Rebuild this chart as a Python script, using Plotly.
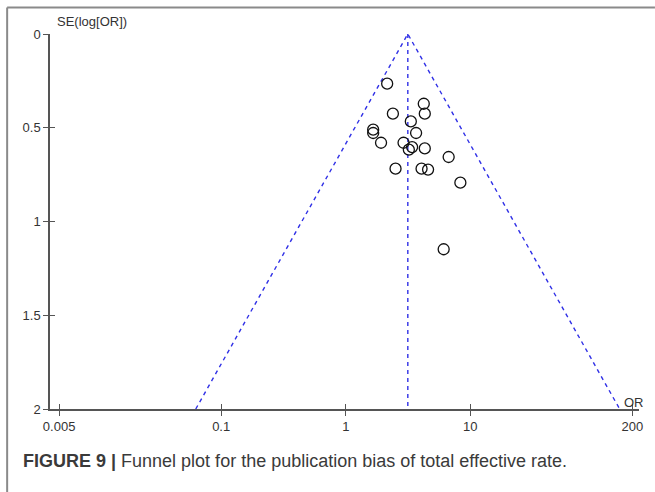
import plotly.graph_objects as go

# Study data
study_or = [2.15, 4.23, 4.31, 2.39, 3.33, 1.66, 1.66, 3.67, 1.92, 2.91,
            3.41, 3.21, 4.31, 6.70, 2.51, 4.06, 4.58, 8.32, 6.11]
study_se = [0.265, 0.372, 0.425, 0.425, 0.466, 0.510, 0.528, 0.528, 0.580, 0.580,
            0.603, 0.617, 0.610, 0.656, 0.718, 0.718, 0.723, 0.793, 1.148]

# Funnel (pseudo 95% limits) and pooled estimate
funnel_or = [0.0625, 3.15, 158.0]
funnel_se = [2.0, 0.0, 2.0]
pooled_or = [3.15, 3.15]
pooled_se = [0.0, 2.0]

x_ticks = [0.005, 0.1, 1, 10, 200]
x_tick_labels = ["0.005", "0.1", "1", "10", "200"]
y_ticks = [0, 0.5, 1, 1.5, 2]
y_tick_labels = ["0", "0.5", "1", "1.5", "2"]

W, H = 655, 492
L, R, T, B = 50, 14, 33.5, 83
pw = W - L - R
ph = H - T - B
xr = [-2.374, 2.354]
yr = [2, 0]

blue = "#3030e6"
axis_col = "#555555"
txt_col = "#333333"
font = "Liberation Sans, Arial, sans-serif"

fig = go.Figure()
fig.add_trace(go.Scatter(x=funnel_or, y=funnel_se, mode="lines",
                         line=dict(color=blue, width=1.4, dash="4px,4px"),
                         hoverinfo="skip", showlegend=False))
fig.add_trace(go.Scatter(x=pooled_or, y=pooled_se, mode="lines",
                         line=dict(color=blue, width=1.4, dash="4px,4px"),
                         hoverinfo="skip", showlegend=False))
fig.add_trace(go.Scatter(x=study_or, y=study_se, mode="markers",
                         marker=dict(symbol="circle-open", size=11,
                                     line=dict(color="#111111", width=1.3),
                                     color="#111111"),
                         showlegend=False))
# invisible trace on overlay axes for inner tick halves
fig.add_trace(go.Scatter(x=[1], y=[1], xaxis="x2", yaxis="y2", mode="markers",
                         marker=dict(opacity=0), hoverinfo="skip", showlegend=False))

fig.update_layout(
    width=W, height=H,
    margin=dict(l=L, r=R, t=T, b=B),
    paper_bgcolor="white", plot_bgcolor="white",
    font=dict(family=font, size=13, color=txt_col),
    xaxis=dict(type="log", range=xr, tickvals=x_ticks, ticktext=x_tick_labels,
               showgrid=False, zeroline=False, showline=True, linecolor=axis_col,
               linewidth=1.5, ticks="outside", ticklen=5, tickwidth=1.2,
               tickcolor=axis_col, tickfont=dict(size=13, color=txt_col),
               fixedrange=True),
    yaxis=dict(range=yr, tickvals=y_ticks, ticktext=y_tick_labels,
               showgrid=False, zeroline=False, showline=True, linecolor=axis_col,
               linewidth=1.5, ticks="outside", ticklen=5, tickwidth=1.2,
               tickcolor=axis_col, tickfont=dict(size=13, color=txt_col),
               fixedrange=True),
    xaxis2=dict(type="log", range=xr, overlaying="x", tickvals=x_ticks,
                showticklabels=False, showgrid=False, zeroline=False,
                showline=False, ticks="inside", ticklen=5, tickwidth=1.2,
                tickcolor=axis_col, side="bottom", anchor="y"),
    yaxis2=dict(range=yr, overlaying="y", tickvals=y_ticks,
                showticklabels=False, showgrid=False, zeroline=False,
                showline=False, ticks="inside", ticklen=5, tickwidth=1.2,
                tickcolor=axis_col, side="left", anchor="x"),
)

def px_x(p):
    return (p - L) / pw

def px_y(p):
    return (H - B - p) / ph

fig.add_annotation(text="SE(log[OR])", xref="paper", yref="paper",
                   x=px_x(55), y=px_y(21), xanchor="left", yanchor="middle",
                   showarrow=False, font=dict(size=13, color=txt_col, family=font))
fig.add_annotation(text="OR", xref="paper", yref="paper",
                   x=px_x(636), y=px_y(402), xanchor="center", yanchor="middle",
                   showarrow=False, font=dict(size=13, color=txt_col, family=font))
fig.add_annotation(text="<b>FIGURE 9 |</b> Funnel plot for the publication bias of total effective rate.",
                   xref="paper", yref="paper", x=px_x(21), y=px_y(461),
                   xanchor="left", yanchor="middle", showarrow=False,
                   font=dict(size=18, color="#3a3a3a", family=font))

# outer frame (top and left)
fig.add_shape(type="line", xref="paper", yref="paper",
              x0=px_x(7), y0=px_y(7), x1=px_x(W + 2), y1=px_y(7),
              line=dict(color="#8a8a8a", width=2))
fig.add_shape(type="line", xref="paper", yref="paper",
              x0=px_x(7), y0=px_y(7), x1=px_x(7), y1=px_y(H + 2),
              line=dict(color="#8a8a8a", width=2))

fig.write_html("out.html")
